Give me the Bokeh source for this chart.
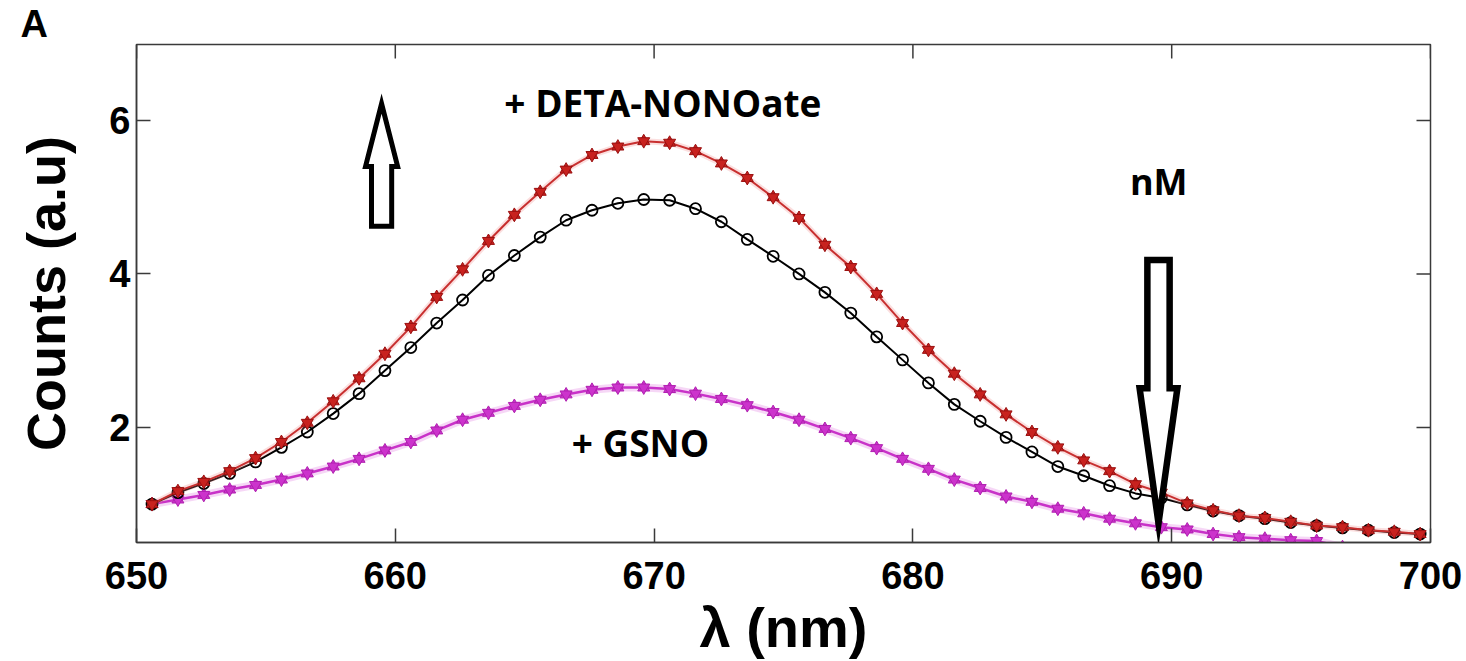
from bokeh.plotting import figure
from bokeh.models import Range1d, FixedTicker, Label
from bokeh.embed import file_html
from bokeh.resources import INLINE

# Emission wavelength grid (nm)
wavelength = [650.6, 651.6, 652.6, 653.6, 654.6, 655.6, 656.6, 657.6, 658.6, 659.6,
              660.6, 661.6, 662.6, 663.6, 664.6, 665.6, 666.6, 667.6, 668.6, 669.6,
              670.6, 671.6, 672.6, 673.6, 674.6, 675.6, 676.6, 677.6, 678.6, 679.6,
              680.6, 681.6, 682.6, 683.6, 684.6, 685.6, 686.6, 687.6, 688.6, 689.6,
              690.6, 691.6, 692.6, 693.6, 694.6, 695.6, 696.6, 697.6, 698.6, 699.6]

# Counts after DETA-NONOate (red)
deta_counts = [1.00, 1.17, 1.29, 1.43, 1.60, 1.81, 2.06, 2.34, 2.64, 2.96,
               3.31, 3.70, 4.06, 4.43, 4.77, 5.07, 5.36, 5.55, 5.66, 5.73,
               5.71, 5.60, 5.44, 5.25, 5.00, 4.73, 4.38, 4.09, 3.74, 3.36,
               3.01, 2.70, 2.43, 2.17, 1.94, 1.74, 1.57, 1.43, 1.26, 1.15,
               1.01, 0.92, 0.85, 0.82, 0.77, 0.72, 0.70, 0.66, 0.64, 0.61]

# Baseline counts (black, open circles)
base_counts = [1.00, 1.15, 1.27, 1.40, 1.55, 1.74, 1.94, 2.18, 2.44, 2.74,
               3.04, 3.36, 3.66, 3.98, 4.24, 4.48, 4.70, 4.83, 4.92, 4.97,
               4.96, 4.85, 4.68, 4.45, 4.23, 4.00, 3.76, 3.49, 3.18, 2.88,
               2.58, 2.30, 2.08, 1.87, 1.68, 1.49, 1.37, 1.24, 1.14, 1.08,
               0.99, 0.91, 0.85, 0.81, 0.76, 0.72, 0.69, 0.66, 0.63, 0.61]

# Counts after GSNO (magenta)
gsno_counts = [1.00, 1.06, 1.12, 1.19, 1.25, 1.32, 1.40, 1.49, 1.59, 1.70,
               1.81, 1.96, 2.10, 2.19, 2.28, 2.36, 2.43, 2.49, 2.52, 2.52,
               2.50, 2.44, 2.37, 2.29, 2.20, 2.10, 1.98, 1.86, 1.73, 1.59,
               1.46, 1.32, 1.21, 1.10, 1.03, 0.94, 0.88, 0.81, 0.75, 0.70,
               0.67, 0.61, 0.57, 0.55, 0.53, 0.52, 0.44]
gsno_wavelength = wavelength[:len(gsno_counts)]

x_ticks = [650, 660, 670, 680, 690, 700]
y_ticks = [2, 4, 6]

X_MIN, X_MAX = 650, 700
Y_MIN, Y_MAX = 0.5, 6.99

# Hollow block arrows: (centre, tail end, head base, tip, shaft half-width, head half-width)
arrow_up = (659.47, 4.62, 5.40, 6.22, 0.39, 0.62)
arrow_down = (689.49, 4.18, 2.51, 0.75, 0.43, 0.73)

TICK_FONT = "Liberation Sans"
NOTE_FONT = "Open Sans"
AXIS_COLOR = "#3a3a3a"

W, H = 1466, 661
BORDER_L, BORDER_R, BORDER_T, BORDER_B = 136, 36, 36, 119
FRAME_W = W - BORDER_L - BORDER_R
FRAME_H = H - 44 - BORDER_B
TICK_PX = 14

p = figure(width=W, height=H,
           x_range=Range1d(X_MIN, X_MAX), y_range=Range1d(Y_MIN, Y_MAX),
           output_backend="svg", toolbar_location=None,
           min_border_left=BORDER_L, min_border_right=BORDER_R,
           min_border_top=BORDER_T, min_border_bottom=BORDER_B)

# Panel letter
p.title.text = "A"
p.title.align = "left"
p.title.offset = -116
p.title.standoff = 0
p.title.text_font = TICK_FONT
p.title.text_font_style = "bold"
p.title.text_font_size = "38px"
p.title.text_color = "black"

p.background_fill_color = "white"
p.border_fill_color = "white"
p.xgrid.visible = False
p.ygrid.visible = False
p.outline_line_color = AXIS_COLOR
p.outline_line_width = 1.5

for ax, ticks in ((p.xaxis[0], x_ticks), (p.yaxis[0], y_ticks)):
    ax.ticker = FixedTicker(ticks=ticks)
    ax.major_tick_in = TICK_PX
    ax.major_tick_out = 0
    ax.minor_tick_line_color = None
    ax.major_tick_line_color = AXIS_COLOR
    ax.major_tick_line_width = 1.5
    ax.axis_line_color = AXIS_COLOR
    ax.axis_line_width = 1.5
    ax.major_label_text_font = TICK_FONT
    ax.major_label_text_font_style = "bold"
    ax.major_label_text_font_size = "38px"
    ax.major_label_text_color = "black"

p.xaxis[0].major_label_standoff = 19
p.yaxis[0].major_label_standoff = 6

p.xaxis[0].axis_label = "λ (nm)"
p.xaxis[0].axis_label_text_font = TICK_FONT
p.xaxis[0].axis_label_text_font_style = "bold"
p.xaxis[0].axis_label_text_font_size = "56px"
p.xaxis[0].axis_label_text_color = "black"
p.xaxis[0].axis_label_standoff = 4

p.yaxis[0].axis_label = "Counts (a.u)"
p.yaxis[0].axis_label_text_font = TICK_FONT
p.yaxis[0].axis_label_text_font_style = "bold"
p.yaxis[0].axis_label_text_font_size = "54px"
p.yaxis[0].axis_label_text_color = "black"
p.yaxis[0].axis_label_standoff = 30

# Inward ticks mirrored on the top and right edges of the box
dy_tick = TICK_PX * (Y_MAX - Y_MIN) / FRAME_H
dx_tick = TICK_PX * (X_MAX - X_MIN) / FRAME_W
p.segment(x0=x_ticks, y0=[Y_MAX] * len(x_ticks), x1=x_ticks,
          y1=[Y_MAX - dy_tick] * len(x_ticks), line_color=AXIS_COLOR, line_width=1.5)
p.segment(x0=[X_MAX] * len(y_ticks), y0=y_ticks, x1=[X_MAX - dx_tick] * len(y_ticks),
          y1=y_ticks, line_color=AXIS_COLOR, line_width=1.5)

# GSNO series (magenta, soft halo)
p.line(gsno_wavelength, gsno_counts, line_color="#e27ae2", line_width=8, line_alpha=0.3)
p.line(gsno_wavelength, gsno_counts, line_color="#c832c8", line_width=2.5)
p.scatter(gsno_wavelength, gsno_counts, marker="triangle", size=12,
          fill_color="#cc33cc", line_color="#b020b0", line_width=1)
p.scatter(gsno_wavelength, gsno_counts, marker="inverted_triangle", size=12,
          fill_color="#cc33cc", line_color="#b020b0", line_width=1)

# Baseline series (black open circles)
p.line(wavelength, base_counts, line_color="black", line_width=2)
p.scatter(wavelength, base_counts, marker="circle", size=11,
          fill_color=None, line_color="black", line_width=1.8)

# DETA-NONOate series (red hexagrams)
p.line(wavelength, deta_counts, line_color="#f08080", line_width=6, line_alpha=0.25)
p.line(wavelength, deta_counts, line_color="#c83030", line_width=2)
p.scatter(wavelength, deta_counts, marker="triangle", size=12,
          fill_color="#c8221f", line_color="#9a1010", line_width=1)
p.scatter(wavelength, deta_counts, marker="inverted_triangle", size=12,
          fill_color="#c8221f", line_color="#9a1010", line_width=1)


def block_arrow(spec, width):
    cx, tail, head_base, tip, sh, hh = spec
    xs = [cx, cx + hh, cx + sh, cx + sh, cx - sh, cx - sh, cx - hh]
    ys = [tip, head_base, head_base, tail, tail, head_base, head_base]
    p.patch(xs, ys, fill_color="white", line_color="black",
            line_width=width, line_join="miter")


block_arrow(arrow_up, 5)
block_arrow(arrow_down, 6.5)

notes = [("+ DETA-NONOate", 670.34, 6.23, "37px"),
         ("nM", 689.5, 5.20, "36px"),
         ("+ GSNO", 669.47, 1.80, "37px")]
for txt, x, y, size in notes:
    p.add_layout(Label(x=x, y=y, text=txt, text_align="center",
                       text_baseline="middle", text_font=NOTE_FONT,
                       text_font_style="bold", text_font_size=size,
                       text_color="black"))

open("out.html", "w").write(file_html(p, INLINE))
